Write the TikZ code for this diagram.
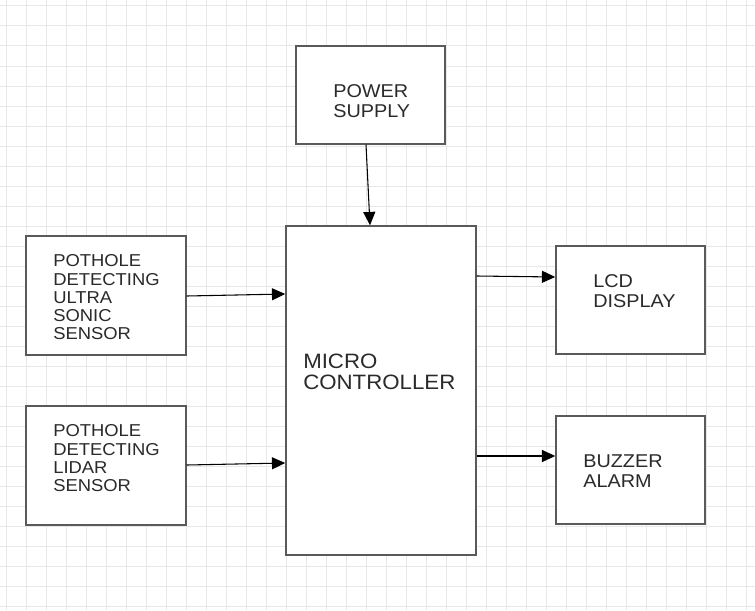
\documentclass[tikz,border=0pt]{standalone}
\usepackage{fontspec}
\setmainfont{Liberation Sans}[FakeStretch=1.07]
\usetikzlibrary{arrows.meta,calc}
\definecolor{gridc}{HTML}{E8E8E8}
\definecolor{boxc}{HTML}{5A5A5A}
\definecolor{txtc}{HTML}{2A2A2A}
\tikzset{
  box/.style={draw=boxc, line width=1.1pt, fill=white, rectangle, inner sep=0pt},
  lbl/.style={anchor=north west, inner sep=0pt, align=left, text=txtc},
  small/.style={font=\fontsize{12.9pt}{13.7pt}\selectfont},
  mid/.style={font=\fontsize{13.9pt}{15pt}\selectfont},
  big/.style={font=\fontsize{15.6pt}{15.2pt}\selectfont},
  conn/.style={draw=black, line width=0.8pt, -{Triangle[length=10pt,width=9pt]}},
  gridl/.style={draw=gridc, line width=0.75pt}
}
\begin{document}
\begin{tikzpicture}[x=0.75pt,y=-0.75pt]
\useasboundingbox (0,0) rectangle (755,610);
\fill[white] (0,0) rectangle (755,610);
\foreach \i in {6,26,...,746} \draw[gridl] (\i,0) -- (\i,610);
\foreach \j in {6,26,...,606} \draw[gridl] (0,\j) -- (755,\j);

\node[box, minimum width=111.75pt, minimum height=73.5pt] (ps) at (370.5,95) {};
\node[box, minimum width=142.5pt, minimum height=246.75pt] (mc) at (381,390.5) {};
\node[box, minimum width=120pt, minimum height=89.25pt] (us) at (106,295.5) {};
\node[box, minimum width=120pt, minimum height=89.25pt] (li) at (106,465.5) {};
\node[box, minimum width=111.75pt, minimum height=81pt] (lcd) at (630.5,300) {};
\node[box, minimum width=111.75pt, minimum height=81pt] (bz) at (630.5,470) {};

\node[lbl, mid] (pst) at (333,84.5) {POWER\\SUPPLY};
\node[lbl, big] (mct) at (303,354) {MICRO\\CONTROLLER};
\node[lbl, small] (ust) at (53,254.5) {POTHOLE\\DETECTING\\ULTRA\\SONIC\\SENSOR};
\node[lbl, small] (lit) at (53,424.5) {POTHOLE\\DETECTING\\LIDAR\\SENSOR};
\node[lbl, mid] (lcdt) at (593,274.5) {LCD\\DISPLAY};
\node[lbl, mid] (bzt) at (583,454.5) {BUZZER\\ALARM};

\draw[conn] ($(ps.south)+(-4.5,0)$) -- ($(mc.north)+(-11,0)$);
\draw[conn] ($(us.east)+(0,0.5)$) -- ($(mc.west)+(0,-96.5)$);
\draw[conn] ($(li.east)+(0,-0.5)$) -- ($(mc.west)+(0,72.5)$);
\draw[conn] ($(mc.east)+(0,-114.5)$) -- ($(lcd.west)+(0,-23)$);
\draw[conn] ($(mc.east)+(0,65.5)$) -- ($(bz.west)+(0,-14)$);
\end{tikzpicture}
\end{document}
